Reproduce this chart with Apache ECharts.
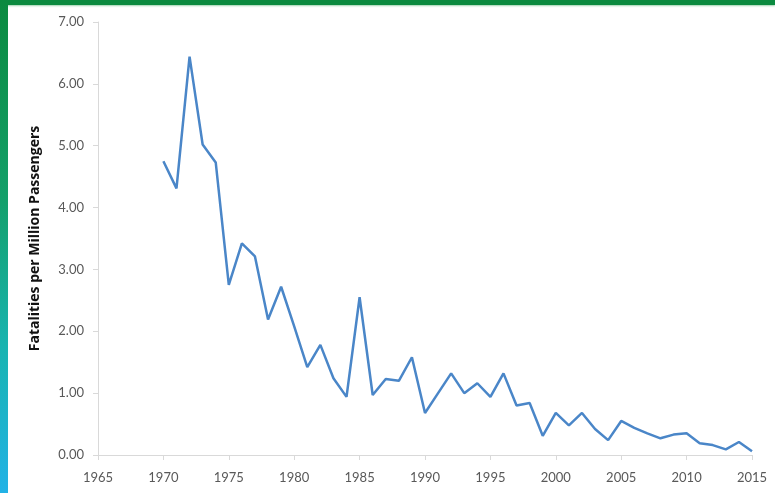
<!DOCTYPE html>
<html lang="en">
  <head>
    <meta charset="UTF-8" />
    <title>Fatalities per Million Passengers</title>
    <script src="https://cdn.jsdelivr.net/npm/echarts@6/dist/echarts.min.js"></script>
    <style>
      html, body { margin: 0; padding: 0; background: #fff; }
      #frame {
        position: relative;
        width: 775px;
        height: 493px;
        overflow: hidden;
        background: #fff;
      }
      #frame .top {
        position: absolute; left: 0; top: 0; width: 775px; height: 5px;
        background: #0b8a3f;
        box-shadow: 0 1px 2px #9fd3b0;
      }
      #frame .left {
        position: absolute; left: 0; top: 0; width: 8px; height: 493px;
        background: linear-gradient(#0b8a3f, #14a06a 40%, #18b4b0 70%, #22b2e6);
      }
      #main { position: absolute; left: 0; top: 0; width: 775px; height: 493px; }
    </style>
  </head>
  <body>
    <div id="frame">
      <div id="main"></div>
      <div class="top"></div>
      <div class="left"></div>
    </div>
    <script>
      var years = [
        1970, 1971, 1972, 1973, 1974, 1975, 1976, 1977, 1978, 1979,
        1980, 1981, 1982, 1983, 1984, 1985, 1986, 1987, 1988, 1989,
        1990, 1991, 1992, 1993, 1994, 1995, 1996, 1997, 1998, 1999,
        2000, 2001, 2002, 2003, 2004, 2005, 2006, 2007, 2008, 2009,
        2010, 2011, 2012, 2013, 2014, 2015
      ];
      var fatalities = [
        4.75, 4.31, 6.44, 5.02, 4.73, 2.75, 3.42, 3.21, 2.19, 2.72,
        2.08, 1.42, 1.78, 1.24, 0.94, 2.55, 0.97, 1.23, 1.20, 1.58,
        0.68, 1.00, 1.32, 1.00, 1.16, 0.94, 1.32, 0.80, 0.84, 0.31,
        0.68, 0.48, 0.68, 0.42, 0.24, 0.55, 0.44, 0.35, 0.27, 0.33,
        0.35, 0.19, 0.16, 0.09, 0.21, 0.06
      ];
      var yName = "Fatalities per Million Passengers";

      var myChart = echarts.init(document.getElementById("main"));
      var labelStyle = { color: "#595959", fontSize: 13, fontFamily: "Lato, 'Open Sans', sans-serif" };
      var option = {
        animation: false,
        grid: { left: 98, right: 23, top: 22, bottom: 38 },
        xAxis: {
          type: "value",
          min: 1965,
          max: 2015,
          interval: 5,
          axisLine: { show: true, lineStyle: { color: "#d9d9d9", width: 1 } },
          axisTick: { show: true, length: 5, lineStyle: { color: "#d9d9d9" } },
          splitLine: { show: false },
          axisLabel: Object.assign({
            margin: 16,
            formatter: function (v) { return String(v); }
          }, labelStyle)
        },
        yAxis: {
          type: "value",
          min: 0,
          max: 7,
          interval: 1,
          name: yName,
          nameLocation: "middle",
          nameGap: 56,
          nameTextStyle: { color: "#111", fontSize: 14, fontWeight: "bold", fontFamily: "'Open Sans', sans-serif" },
          axisLine: { show: true, lineStyle: { color: "#d9d9d9", width: 1 } },
          axisTick: { show: true, length: 5, lineStyle: { color: "#d9d9d9" } },
          splitLine: { show: false },
          axisLabel: Object.assign({
            margin: 14,
            formatter: function (v) { return v.toFixed(2); }
          }, labelStyle)
        },
        series: [
          {
            type: "line",
            data: years.map(function (y, i) { return [y, fatalities[i]]; }),
            showSymbol: false,
            lineStyle: { color: "#4a86c8", width: 2.5 }
          }
        ]
      };
      option && myChart.setOption(option);
    </script>
  </body>
</html>
